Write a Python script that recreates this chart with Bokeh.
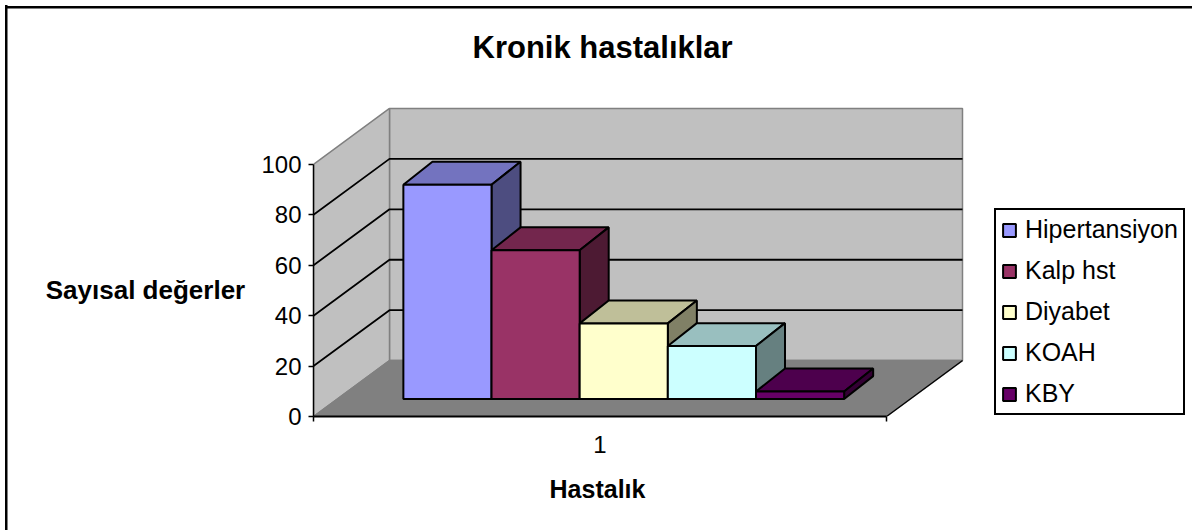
from bokeh.plotting import figure
from bokeh.models import Range1d, LinearAxis, FixedTicker, Label, Legend, LegendItem, Title
from bokeh.embed import file_html
from bokeh.resources import INLINE

series = ["Hipertansiyon", "Kalp hst", "Diyabet", "KOAH", "KBY"]
values = [85, 59, 30, 21, 3]
front_colors = ["#9999FF", "#993366", "#FFFFCC", "#CCFFFF", "#660066"]
top_colors = ["#7373BF", "#73264D", "#BFBF99", "#99BFBF", "#4D004D"]
side_colors = ["#4D4D80", "#4D1A33", "#808066", "#668080", "#330033"]
y_ticks = [0, 20, 40, 60, 80, 100]
category = 1

FONT = "Liberation Sans"
W, H = 1192, 531
LEFT, TOP, BOTTOM_PX = 313, 90, 416.5
PX_X = 573.0
PX_Y = 2.525
DX = 76 / PX_X
DY = 56 / PX_Y
BAR_W = 1 / 6.5
D0, D1X, D1Y = 0.3125, 0.382, 0.41

p = figure(width=W, height=H, output_backend="svg", toolbar_location=None,
           x_range=Range1d(0.5, 0.5 + (W - LEFT) / PX_X),
           y_range=Range1d(0, (BOTTOM_PX - TOP) / PX_Y),
           x_axis_type=None, y_axis_type=None,
           min_border_left=LEFT, min_border_right=0, min_border_top=TOP,
           min_border_bottom=int(H - BOTTOM_PX), outline_line_color=None,
           frame_width=W - LEFT, frame_height=int(BOTTOM_PX - TOP),
           border_fill_color=None, background_fill_color=None,
           styles={"background":
                   "linear-gradient(black,black) 5px 5px/2.5px 100% no-repeat,"
                   "linear-gradient(black,black) 5px 5.5px/100% 2.5px no-repeat"})
p.grid.visible = False

x0, x1 = category - 0.5, category + 0.5

wall = "#808080"
p.patch([x0 + DX, x1 + DX, x1 + DX, x0 + DX], [DY, DY, 100 + DY, 100 + DY],
        fill_color="#C0C0C0", line_color=wall, line_width=1.5)
p.patch([x0, x0 + DX, x0 + DX, x0], [0, DY, 100 + DY, 100],
        fill_color="#C0C0C0", line_color=wall, line_width=1.5)
p.patch([x0, x1, x1 + DX, x0 + DX], [0, 0, DY, DY],
        fill_color="#808080", line_color=wall, line_width=1.5)
p.line([x1, x1 + DX], [0, DY], line_color="black", line_width=1.2)

for t in y_ticks[1:-1]:
    p.line([x0, x0 + DX, x1 + DX], [t, t + DY, t + DY], line_color="black", line_width=1.8)

legend_items = []
bx = x0 + D0 * DX + 1.5 / 2 * BAR_W
by = D0 * DY
ddx, ddy = D1X * DX, D1Y * DY
for i, v in enumerate(values):
    l, r = bx + i * BAR_W, bx + (i + 1) * BAR_W
    t = by + v
    p.patch([l, r, r + ddx, l + ddx], [t, t, t + ddy, t + ddy],
            fill_color=top_colors[i], line_color="black", line_width=2)
    p.patch([r, r + ddx, r + ddx, r], [by, by + ddy, t + ddy, t],
            fill_color=side_colors[i], line_color="black", line_width=2)
    q = p.quad(left=l, right=r, bottom=by, top=t,
               fill_color=front_colors[i], line_color="black", line_width=2)
    legend_items.append(LegendItem(label=series[i], renderers=[q]))

yaxis = LinearAxis(ticker=FixedTicker(ticks=y_ticks), bounds=(0, 100))
yaxis.major_tick_in = 0
yaxis.major_tick_out = 5
yaxis.major_tick_line_color = "black"
yaxis.major_tick_line_width = 1.5
yaxis.axis_line_color = "black"
yaxis.axis_line_width = 1.5
yaxis.major_label_text_font = FONT
yaxis.major_label_text_font_size = "24px"
yaxis.major_label_text_color = "black"
yaxis.major_label_standoff = 7
p.add_layout(yaxis, "left")

xaxis = LinearAxis(ticker=FixedTicker(ticks=[category], minor_ticks=[x0, x1]), bounds=(x0, x1))
xaxis.major_tick_line_color = None
xaxis.major_tick_out = 0
xaxis.major_tick_in = 0
xaxis.minor_tick_in = 0
xaxis.minor_tick_out = 5
xaxis.minor_tick_line_color = "black"
xaxis.minor_tick_line_width = 1.5
xaxis.axis_line_color = "black"
xaxis.axis_line_width = 2
xaxis.major_label_text_font = FONT
xaxis.major_label_text_font_size = "24px"
xaxis.major_label_text_color = "black"
xaxis.major_label_standoff = 14
p.add_layout(xaxis, "below")

p.add_layout(Title(text="Kronik hastalıklar", align="left", offset=159, standoff=51, text_font=FONT,
                   text_font_size="31px", text_font_style="bold", text_color="black"), "above")

p.add_layout(Label(x=145, y=289, x_units="canvas", y_units="canvas", text="Sayısal değerler",
                   text_font=FONT, text_font_size="26px", text_font_style="bold", text_color="black",
                   text_align="center", text_baseline="middle"), "left")
p.add_layout(Label(x=597, y=488, x_units="canvas", y_units="canvas", text="Hastalık",
                   text_font=FONT, text_font_size="25px", text_font_style="bold", text_color="black",
                   text_align="center", text_baseline="middle"), "below")

lg = Legend(items=legend_items, location=(681, 1), orientation="vertical",
            border_line_color="black", border_line_width=2, border_line_alpha=1, background_fill_color="white",
            background_fill_alpha=1, label_text_font=FONT, label_text_font_size="25px",
            label_text_color="black", glyph_width=16, glyph_height=16, label_height=26, label_width=149,
            spacing=12, padding=5, margin=0, label_standoff=8)
p.add_layout(lg, "center")

open("out.html", "w").write(file_html(p, INLINE))
